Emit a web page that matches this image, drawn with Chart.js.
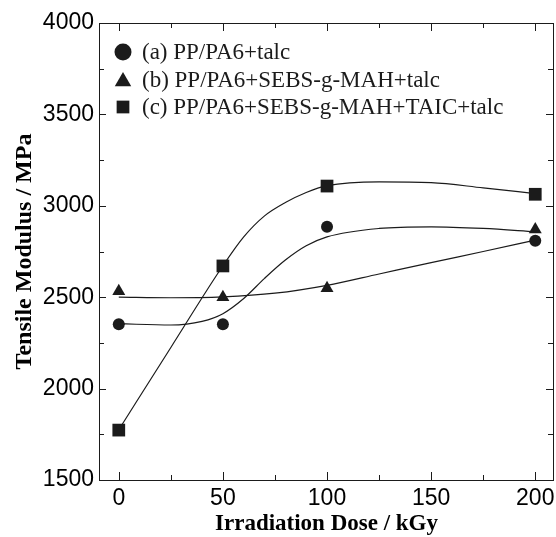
<!DOCTYPE html>
<html>
<head>
<meta charset="utf-8">
<script src="https://cdn.jsdelivr.net/npm/chart.js@4.4.1/dist/chart.umd.min.js"></script>
<style>html,body{margin:0;padding:0;background:#fff;}</style>
</head>
<body>
<canvas id="tensile" width="556" height="537"></canvas>
<script>
"use strict";
// measured points
var doses = [0, 50, 100, 200];
var modulusA = [2352, 2352, 2886, 2809];
var modulusB = [2532, 2500, 2549, 2871];
var modulusC = [1773, 2671, 3108, 3063];

// fitted curves
var fitDoseA = [0, 25, 40, 50, 60, 70, 80, 90, 100, 125, 150, 175, 200];
var fitA = [2355, 2348, 2368, 2410, 2493, 2603, 2703, 2781, 2830, 2876, 2885, 2876, 2858];
var fitDoseB = [0, 25, 50, 75, 100, 125, 150, 175, 200];
var fitB = [2500, 2497, 2502, 2522, 2565, 2627, 2689, 2750, 2812];
var fitDoseC = [0, 25, 50, 60, 70, 80, 90, 100, 125, 150, 175, 200];
var fitC = [1775, 2225, 2672, 2830, 2945, 3018, 3073, 3110, 3131, 3127, 3098, 3067];

var seriesLabels = ["(a) PP/PA6+talc", "(b) PP/PA6+SEBS-g-MAH+talc", "(c) PP/PA6+SEBS-g-MAH+TAIC+talc"];
var xTickLabels = [0, 50, 100, 150, 200];
var yTickLabels = [1500, 2000, 2500, 3000, 3500, 4000];

var ink = '#1b1b1b';

function pts(xs, ys) {
	return xs.map(function (x, i) { return {x: x, y: ys[i]}; });
}

// box round the plot with inward ticks on all four sides
var frameTicks = {
	id: 'frameTicks',
	afterDraw: function (chart) {
		var ctx = chart.ctx, a = chart.chartArea;
		var x = chart.scales.x, y = chart.scales.y;
		ctx.save();
		ctx.strokeStyle = ink;
		ctx.lineWidth = 1;
		ctx.strokeRect(Math.round(a.left) + 0.5, Math.round(a.top) + 0.5, Math.round(a.right - a.left) - 1, Math.round(a.bottom - a.top));
		ctx.beginPath();
		x.ticks.forEach(function (t) {
			var px = Math.round(x.getPixelForValue(t.value)) + 0.5;
			var len = xTickLabels.indexOf(t.value) >= 0 ? 8 : 5;
			ctx.moveTo(px, a.bottom); ctx.lineTo(px, a.bottom - len);
			ctx.moveTo(px, a.top); ctx.lineTo(px, a.top + len);
		});
		y.ticks.forEach(function (t) {
			var py = Math.round(y.getPixelForValue(t.value)) + 0.5;
			var len = yTickLabels.indexOf(t.value) >= 0 ? 7 : 5;
			ctx.moveTo(a.left, py); ctx.lineTo(a.left + len, py);
			ctx.moveTo(a.right - 1, py); ctx.lineTo(a.right - 1 - len, py);
		});
		ctx.stroke();
		ctx.restore();
	}
};

// legend drawn inside the plot, top left
var insideLegend = {
	id: 'insideLegend',
	afterDraw: function (chart) {
		var ctx = chart.ctx, a = chart.chartArea;
		ctx.save();
		ctx.font = '23px "Liberation Serif"';
		ctx.textBaseline = 'middle';
		ctx.fillStyle = ink;
		ctx.strokeStyle = ink;
		chart.data.datasets.forEach(function (ds, i) {
			if (!ds.label) return;
			var y = a.top + 29 + i * 27.5;
			var dy = ds.pointStyle === 'triangle' ? 2 : 0;
			Chart.helpers.drawPoint(ctx, {pointStyle: ds.pointStyle, radius: ds.legendRadius, borderWidth: 0, rotation: 0}, a.left + 24, y + dy);
			ctx.fillText(ds.label, a.left + 43, y + 1);
		});
		ctx.restore();
	}
};

var ctx = document.getElementById("tensile");
var tensileChart = new Chart(ctx, {
	type: 'scatter',
	data: {
		datasets: [{
			label: seriesLabels[0],
			data: pts(doses, modulusA),
			pointStyle: 'circle', pointRadius: 6, legendRadius: 8.5,
			backgroundColor: ink, borderColor: ink, borderWidth: 0
		}, {
			label: seriesLabels[1],
			data: pts(doses, modulusB),
			pointStyle: 'triangle', pointRadius: 7.5, legendRadius: 9.5,
			backgroundColor: ink, borderColor: ink, borderWidth: 0
		}, {
			label: seriesLabels[2],
			data: pts(doses, modulusC),
			pointStyle: 'rect', pointRadius: 9, legendRadius: 9,
			backgroundColor: ink, borderColor: ink, borderWidth: 0
		}, {
			data: pts(fitDoseA, fitA),
			showLine: true, pointRadius: 0, borderColor: ink, borderWidth: 1.2,
			cubicInterpolationMode: 'monotone', fill: false
		}, {
			data: pts(fitDoseB, fitB),
			showLine: true, pointRadius: 0, borderColor: ink, borderWidth: 1.2,
			cubicInterpolationMode: 'monotone', fill: false
		}, {
			data: pts(fitDoseC, fitC),
			showLine: true, pointRadius: 0, borderColor: ink, borderWidth: 1.2,
			cubicInterpolationMode: 'monotone', fill: false
		}]
	},
	options: {
		responsive: false,
		animation: false,
		layout: {autoPadding: false, padding: {top: 23, right: 2, left: 0, bottom: 0}},
		plugins: {
			legend: {display: false},
			tooltip: {enabled: false}
		},
		scales: {
			x: {
				type: 'linear', min: -9.5, max: 209,
				grid: {display: false, drawTicks: true, tickLength: 5},
				border: {display: false},
				ticks: {
					stepSize: 25, includeBounds: false, autoSkip: false, maxRotation: 0,
					padding: 0, color: '#000',
					font: {family: 'Liberation Sans', size: 23},
					callback: function (v) { return xTickLabels.indexOf(v) >= 0 ? String(v) : ''; }
				},
				title: {
					display: true, text: 'Irradiation Dose / kGy', color: '#000',
					font: {family: 'Liberation Serif', size: 23, weight: 'bold'},
					padding: {top: 0, bottom: -1}
				},
				afterFit: function (s) { s.height = 57; }
			},
			y: {
				type: 'linear', min: 1500, max: 4000,
				grid: {display: false, drawTicks: false},
				border: {display: false},
				ticks: {
					stepSize: 250, autoSkip: false, padding: 5, color: '#000',
					font: {family: 'Liberation Sans', size: 23},
					callback: function (v) { return yTickLabels.indexOf(v) >= 0 ? String(v) : ''; }
				},
				title: {
					display: true, text: 'Tensile Modulus / MPa', color: '#000',
					font: {family: 'Liberation Serif', size: 24, weight: 'bold'},
					padding: {top: 10, bottom: 0}
				},
				afterFit: function (s) { s.width = 99; }
			}
		}
	},
	plugins: [frameTicks, insideLegend]
});
</script>
</body>
</html>
